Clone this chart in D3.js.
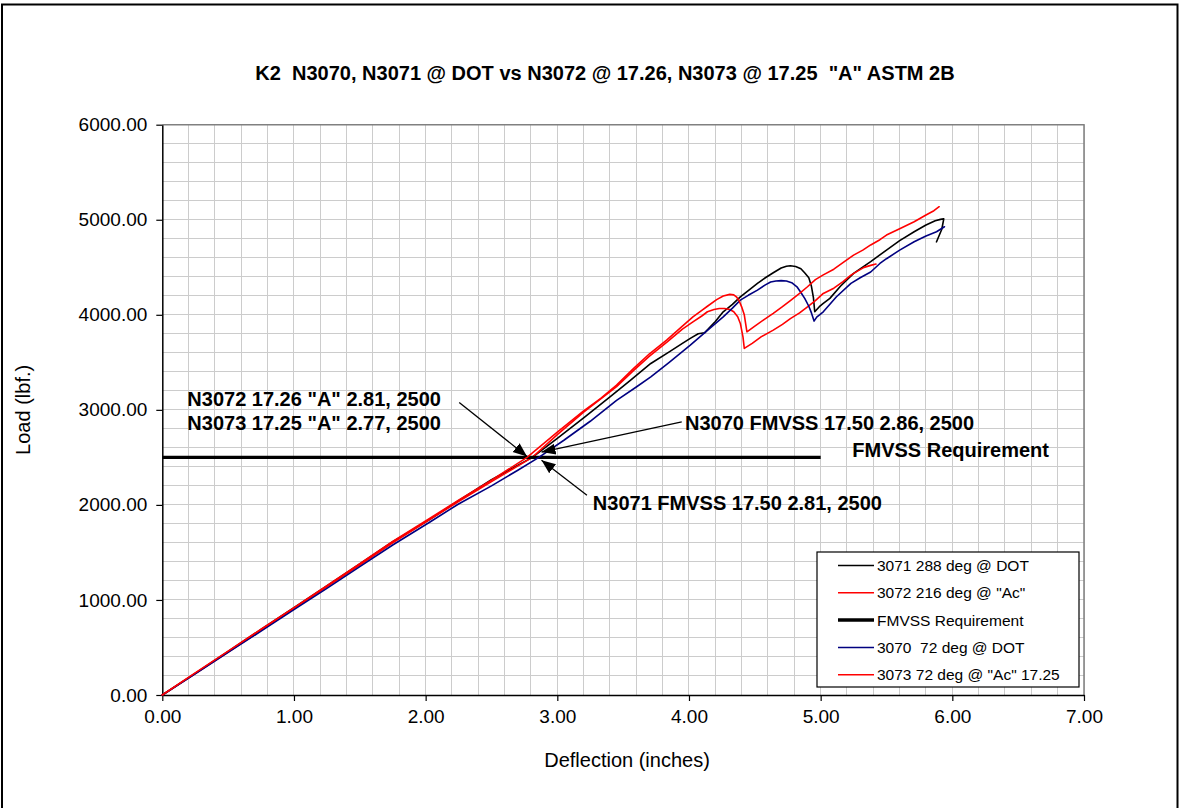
<!DOCTYPE html>
<html>
<head>
<meta charset="utf-8">
<script src="https://cdn.jsdelivr.net/npm/d3@7"></script>
<style>
  html, body { margin: 0; padding: 0; background: #fff; }
  svg text { font-family: "Liberation Sans", Arial, sans-serif; white-space: pre; }
</style>
</head>
<body>
<svg id="chart" width="1180" height="808"></svg>
<script>
// ---- chart text ----
const titleText = 'K2  N3070, N3071 @ DOT vs N3072 @ 17.26, N3073 @ 17.25  "A" ASTM 2B';
const xAxisTitle = "Deflection (inches)";
const yAxisTitle = "Load (lbf.)";

// ---- axis ticks ----
const xTicks = [0, 1, 2, 3, 4, 5, 6, 7];
const yTicks = [0, 1000, 2000, 3000, 4000, 5000, 6000];
const xMinorStep = 0.2;
const yMinorStep = 200;

// ---- series: deflection (in) and load (lbf) ----
const defl3071 = [0,0.25,0.5,0.75,1.0,1.25,1.5,1.75,2.03,2.25,2.5,2.81,3.0,3.2,3.4,3.55,3.71,3.85,3.95,4.01,4.07,4.12,4.2,4.26,4.33,4.39,4.46,4.52,4.58,4.64,4.7,4.74,4.77,4.81,4.85,4.88,4.91,4.93,4.945,4.955,4.99,5.02,5.07,5.15,5.25,5.38,5.5,5.6,5.71,5.8,5.87,5.91,5.935,5.92,5.88];
const load3071 = [0,228,458,690,918,1148,1380,1612,1845,2045,2265,2500,2700,2915,3137,3305,3488,3610,3700,3752,3800,3812,3930,4032,4110,4189,4265,4331,4390,4442,4492,4510,4516,4508,4485,4440,4390,4300,4180,4032,4085,4120,4173,4300,4436,4560,4681,4780,4874,4945,4990,5004,5010,4900,4768];

const defl3072 = [0,0.25,0.5,0.75,1.0,1.25,1.5,1.75,2.03,2.25,2.5,2.81,3.0,3.2,3.45,3.58,3.7,3.83,3.95,4.03,4.1,4.14,4.19,4.23,4.27,4.31,4.34,4.37,4.39,4.41,4.42,4.48,4.55,4.64,4.71,4.77,4.84,4.9,4.96,5.02,5.1,5.17,5.23,5.28,5.33,5.38,5.42];
const load3072 = [0,226,452,680,908,1138,1368,1600,1845,2035,2245,2500,2740,2975,3245,3415,3565,3710,3850,3926,3990,4032,4055,4066,4067,4055,4032,3980,3909,3768,3646,3700,3770,3839,3900,3960,4020,4084,4150,4225,4280,4350,4418,4460,4499,4520,4534];

const deflFmvss = [0, 5.0];
const loadFmvss = [2500, 2500];

const defl3070 = [0,0.25,0.5,0.75,1.0,1.25,1.5,1.75,2.03,2.25,2.5,2.7,2.86,3.05,3.25,3.45,3.6,3.71,3.85,4.01,4.16,4.26,4.33,4.39,4.45,4.52,4.58,4.62,4.66,4.7,4.74,4.78,4.82,4.85,4.88,4.91,4.93,4.95,4.97,5.02,5.12,5.23,5.3,5.38,5.45,5.5,5.6,5.71,5.8,5.88,5.94];
const load3070 = [0,222,448,672,898,1122,1350,1578,1818,2010,2200,2365,2500,2680,2880,3100,3240,3347,3500,3681,3860,3979,4070,4155,4205,4260,4315,4345,4356,4360,4356,4338,4295,4235,4170,4090,4020,3934,3975,4032,4190,4331,4390,4450,4540,4590,4680,4768,4830,4874,4926];

const defl3073 = [0,0.25,0.5,0.75,1.0,1.25,1.5,1.75,2.03,2.25,2.5,2.77,3.0,3.2,3.33,3.45,3.58,3.7,3.83,3.95,4.03,4.1,4.14,4.21,4.26,4.31,4.34,4.36,4.38,4.40,4.42,4.43,4.44,4.5,4.57,4.64,4.71,4.77,4.84,4.9,4.96,5.02,5.1,5.18,5.25,5.32,5.38,5.45,5.5,5.6,5.71,5.8,5.86,5.9];
const load3073 = [0,232,462,692,920,1150,1382,1615,1857,2050,2260,2500,2765,2990,3120,3260,3436,3590,3734,3880,3979,4050,4090,4160,4197,4215,4210,4189,4150,4084,4000,3909,3821,3880,3950,4015,4085,4150,4225,4295,4370,4420,4480,4560,4628,4680,4735,4790,4839,4905,4979,5050,5095,5137];

const seriesNames  = ['3071 288 deg @ DOT', '3072 216 deg @ "Ac"', 'FMVSS Requirement', '3070  72 deg @ DOT', '3073 72 deg @ "Ac" 17.25'];
const seriesDefl   = [defl3071, defl3072, deflFmvss, defl3070, defl3073];
const seriesLoad   = [load3071, load3072, loadFmvss, load3070, load3073];
const seriesColors = ['#000000', '#ff0000', '#000000', '#000080', '#ff0000'];
const seriesWidths = [1.6, 1.6, 3.2, 1.6, 1.6];

// ---- callouts: text and the points they refer to ----
const noteTexts = ['N3072 17.26 "A" 2.81, 2500', 'N3073 17.25 "A" 2.77, 2500', 'N3070 FMVSS 17.50 2.86, 2500', 'FMVSS Requirement', 'N3071 FMVSS 17.50 2.81, 2500'];
const noteX = [0.19, 0.19, 3.97, 5.24, 3.27];
const noteY = [3110, 2865, 2865, 2575, 2020];
const arrowFromX = [2.255, 3.945, 3.225];
const arrowFromY = [3078, 2874, 2102];
const arrowToX   = [2.77, 2.88, 2.88];
const arrowToY   = [2510, 2556, 2470];

// ---- layout ----
const W = 1180, H = 808;
const plot = { left: 162.3, right: 1084, top: 124.7, bottom: 695 };
const font = '"Liberation Sans", Arial, sans-serif';

const svg = d3.select('#chart');

const x = d3.scaleLinear().domain([0, 7]).range([plot.left, plot.right]);
const y = d3.scaleLinear().domain([0, 6000]).range([plot.bottom, plot.top]);

// outer frame (runs past the bottom edge)
svg.append('rect')
  .attr('x', 2).attr('y', 4.5).attr('width', W - 4.5).attr('height', H + 20)
  .attr('fill', '#fff').attr('stroke', '#000').attr('stroke-width', 2);

// minor + major gridlines
const xGrid = d3.range(0, 7 + 1e-9, xMinorStep);
const yGrid = d3.range(0, 6000 + 1e-9, yMinorStep);
const grid = svg.append('g').attr('stroke', '#cccccc').attr('stroke-width', 1).attr('shape-rendering', 'crispEdges');
grid.selectAll('line.v').data(xGrid.slice(1)).join('line')
  .attr('x1', d => x(d)).attr('x2', d => x(d))
  .attr('y1', plot.top).attr('y2', plot.bottom);
grid.selectAll('line.h').data(yGrid.slice(1)).join('line')
  .attr('x1', plot.left).attr('x2', plot.right)
  .attr('y1', d => y(d)).attr('y2', d => y(d));

// plot area border (top/right)
svg.append('path')
  .attr('d', `M${plot.left},${plot.top}H${plot.right}V${plot.bottom}`)
  .attr('fill', 'none').attr('stroke', '#808080').attr('stroke-width', 1.5);

// axes
const xAxis = d3.axisBottom(x).tickValues(xTicks).tickFormat(d3.format('.2f')).tickSizeInner(6).tickSizeOuter(0).tickPadding(9);
const yAxis = d3.axisLeft(y).tickValues(yTicks).tickFormat(d3.format('.2f')).tickSizeInner(6).tickSizeOuter(0).tickPadding(9);

const gx = svg.append('g').attr('transform', `translate(0,${plot.bottom})`).call(xAxis);
const gy = svg.append('g').attr('transform', `translate(${plot.left},0)`).call(yAxis);
[gx, gy].forEach(g => {
  g.select('.domain').attr('stroke', '#000').attr('stroke-width', 1.5);
  g.selectAll('.tick line').attr('stroke', '#000').attr('stroke-width', 1.2);
  g.selectAll('.tick text')
    .attr('fill', '#000')
    .style('font-family', font)
    .style('font-size', '19px');
});

// series lines
const line = d3.line().x(d => x(d[0])).y(d => y(d[1]));
const seriesG = svg.append('g').attr('fill', 'none').attr('stroke-linejoin', 'round');
seriesNames.forEach((name, i) => {
  const pts = d3.zip(seriesDefl[i], seriesLoad[i]);
  seriesG.append('path')
    .attr('d', line(pts))
    .attr('stroke', seriesColors[i])
    .attr('stroke-width', seriesWidths[i])
    .attr('stroke-linecap', i === 2 ? 'butt' : 'round');
});

// callout arrows
svg.append('defs').append('marker')
  .attr('id', 'arrowhead')
  .attr('viewBox', '0 0 10 10')
  .attr('refX', 10).attr('refY', 5)
  .attr('markerWidth', 14).attr('markerHeight', 14)
  .attr('markerUnits', 'userSpaceOnUse')
  .attr('orient', 'auto')
  .append('path').attr('d', 'M0,1 L10,5 L0,9 Z').attr('fill', '#000');

const arrowsG = svg.append('g');
arrowFromX.forEach((fx, i) => {
  arrowsG.append('line')
    .attr('x1', x(fx)).attr('y1', y(arrowFromY[i]))
    .attr('x2', x(arrowToX[i])).attr('y2', y(arrowToY[i]))
    .attr('stroke', '#000').attr('stroke-width', 1.3)
    .attr('marker-end', 'url(#arrowhead)');
});

// callout texts
const notesG = svg.append('g');
noteTexts.forEach((t, i) => {
  notesG.append('text')
    .attr('x', x(noteX[i])).attr('y', y(noteY[i]))
    .attr('dy', '0.35em')
    .style('font-size', '20px').style('font-weight', 'bold')
    .text(t);
});

// title
svg.append('text')
  .attr('x', 605).attr('y', 73).attr('dy', '0.35em')
  .attr('text-anchor', 'middle')
  .style('font-size', '20px').style('font-weight', 'bold')
  .text(titleText);

// axis titles
svg.append('text')
  .attr('x', 627).attr('y', 760).attr('dy', '0.35em')
  .attr('text-anchor', 'middle').style('font-size', '20px')
  .text(xAxisTitle);
svg.append('text')
  .attr('transform', `translate(23,${(plot.top + plot.bottom) / 2}) rotate(-90)`)
  .attr('dy', '0.35em')
  .attr('text-anchor', 'middle').style('font-size', '20px')
  .text(yAxisTitle);

// legend
const lg = svg.append('g').attr('transform', 'translate(817,552)');
lg.append('rect').attr('width', 262).attr('height', 135)
  .attr('fill', '#fff').attr('stroke', '#000').attr('stroke-width', 1.2);
seriesNames.forEach((name, i) => {
  const cy = 13.5 + i * 27.3;
  lg.append('line')
    .attr('x1', 21).attr('x2', 57).attr('y1', cy).attr('y2', cy)
    .attr('stroke', seriesColors[i]).attr('stroke-width', i === 2 ? 3.5 : 1.5);
  lg.append('text')
    .attr('x', 60).attr('y', cy).attr('dy', '0.35em')
    .style('font-size', '15.5px')
    .text(name);
});
</script>
</body>
</html>
